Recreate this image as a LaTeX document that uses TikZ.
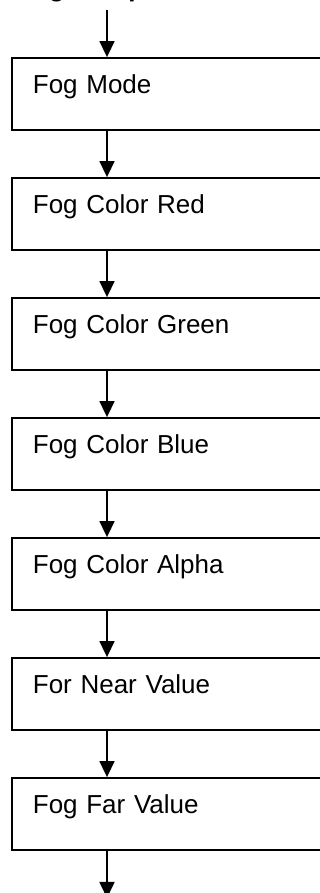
\documentclass[tikz,border=0pt]{standalone}
\usepackage{fontspec}
\setmainfont{Liberation Sans}
\usetikzlibrary{arrows.meta}
\begin{document}
\begin{tikzpicture}[x=1pt,y=1pt,
  stepbox/.style={draw, line width=1.8pt, rectangle, anchor=west,
    minimum width=319pt, minimum height=72pt, inner ysep=0pt, inner xsep=21pt,
    text width=277pt, align=left, text height=36pt, text depth=36pt,
    font=\fontsize{26pt}{30pt}\selectfont},
  flow/.style={line width=1.6pt, -{Triangle[width=15pt,length=16pt]}}]
\useasboundingbox (0,0) rectangle (320,893);
\clip (0,0) rectangle (320,893);
\fill[white] (0,0) rectangle (320,893);
\node[anchor=base west, inner sep=0pt, font=\bfseries\fontsize{26pt}{30pt}\selectfont] (title) at (17,896.5) {Fog Setup};
\coordinate (ax) at (107,0);
\coordinate (top) at (107,883);
\coordinate (bot) at (107,-5);
\node[stepbox] (b1) at (11,799) {Fog Mode};
\node[stepbox] (b2) at (11,679) {Fog Color Red};
\node[stepbox] (b3) at (11,559) {Fog Color Green};
\node[stepbox] (b4) at (11,439) {Fog Color Blue};
\node[stepbox] (b5) at (11,319) {Fog Color Alpha};
\node[stepbox] (b6) at (11,199) {For Near Value};
\node[stepbox] (b7) at (11,79) {Fog Far Value};
\draw[flow] (top) -- (b1.north -| ax);
\draw[flow] (b1.south -| ax) -- (b2.north -| ax);
\draw[flow] (b2.south -| ax) -- (b3.north -| ax);
\draw[flow] (b3.south -| ax) -- (b4.north -| ax);
\draw[flow] (b4.south -| ax) -- (b5.north -| ax);
\draw[flow] (b5.south -| ax) -- (b6.north -| ax);
\draw[flow] (b6.south -| ax) -- (b7.north -| ax);
\draw[flow] (b7.south -| ax) -- (bot);
\end{tikzpicture}
\end{document}
